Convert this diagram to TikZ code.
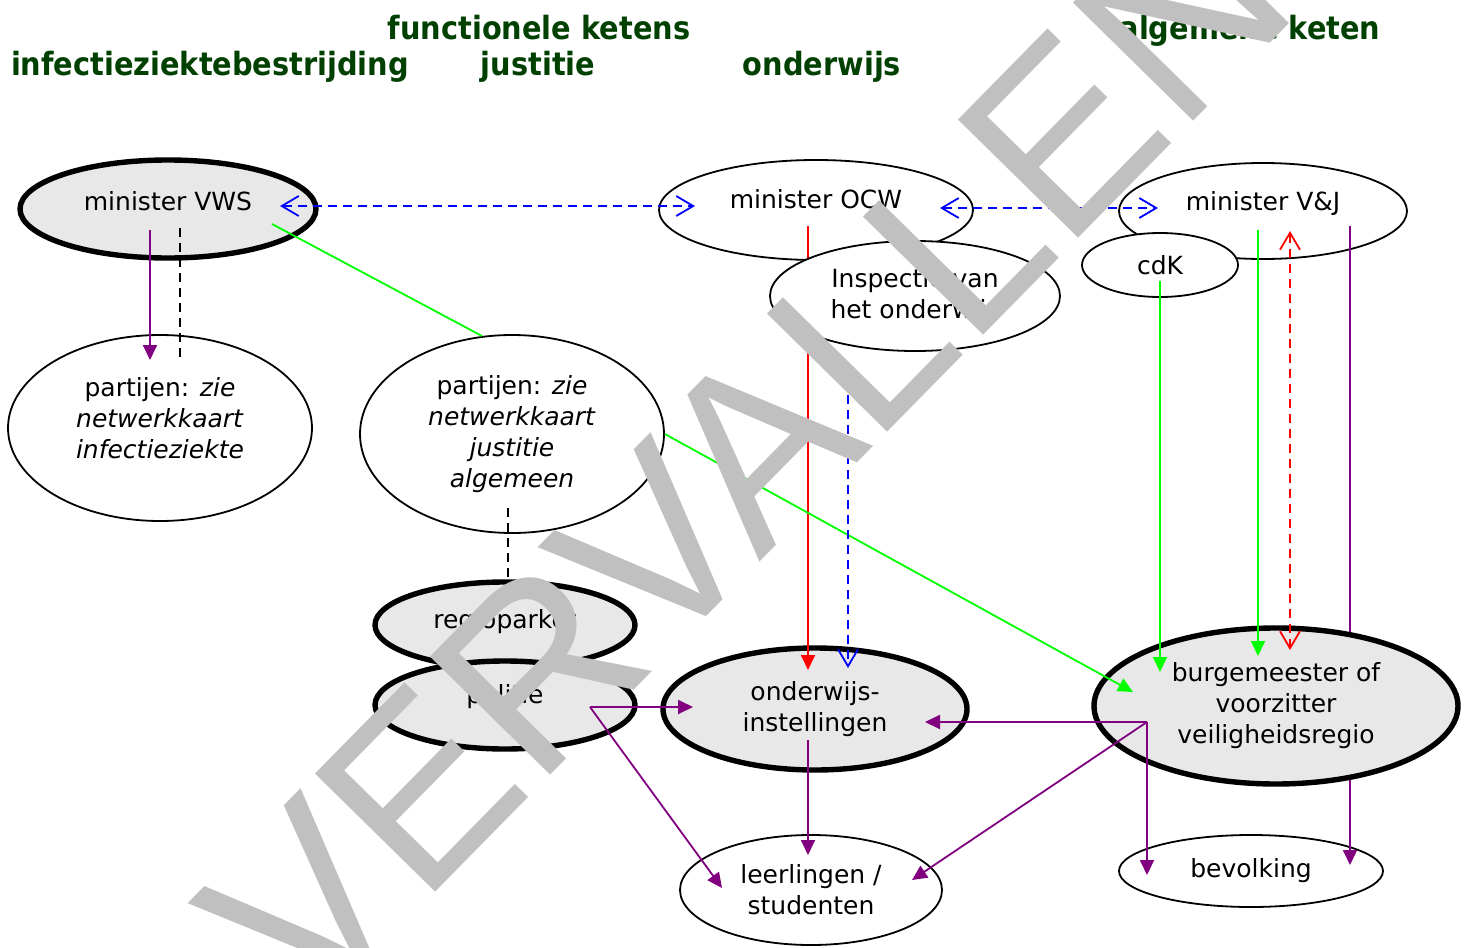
\documentclass[tikz,border=0pt]{standalone}
\usepackage{fontspec}
\setmainfont{DejaVu Sans}
\newfontfamily\headfont[FakeStretch=0.9]{DejaVu Sans}
\newfontfamily\stampfont{Liberation Sans}
\usetikzlibrary{shapes.geometric}
\usetikzlibrary{arrows.meta}
\usetikzlibrary{calc}
\definecolor{kopgroen}{RGB}{0,64,0}
\definecolor{vlak}{RGB}{232,232,232}
\definecolor{paars}{RGB}{128,0,128}
\definecolor{stempel}{RGB}{192,192,192}

\begin{document}
\begin{tikzpicture}[x=0.5pt, y=-0.5pt,
  every node/.style = {font=\fontsize{12.5}{15.5}\selectfont, align=center, inner sep=0pt},
  main/.style = {draw, ellipse, line width=0.9pt, fill=white},
  hoofd/.style = {main, line width=2.7pt, fill=vlak},
  hoger/.style = {text depth=#1},
  titel/.style = {text=kopgroen, font=\headfont\bfseries\fontsize{16}{18}\selectfont, anchor=base},
  lijn/.style = {line width=0.9pt},
  pijl/.style = {lijn, -{Triangle[length=7.5pt,width=7pt]}},
  stippel/.style = {lijn, dash pattern=on 4.5pt off 3pt},
  barb/.style = {-{Straight Barb[length=8.5pt,width=10pt]}},
  barbs/.style = {{Straight Barb[length=8.5pt,width=10pt]}-{Straight Barb[length=8.5pt,width=10pt]}}]

\useasboundingbox (0,0) rectangle (1469,948);
\clip (0,0) rectangle (1469,948);

% kopjes
\node[titel] (functioneel) at (539,39) {functionele ketens};
\node[titel] (algemeen) at (1250,39) {algemene keten};
\node[titel] (infectie) at (210,75) {infectieziektebestrijding};
\node[titel] (justitie) at (538,75) {justitie};
\node[titel] (onderwijs) at (822,75) {onderwijs};

% partijen
\node[hoofd, hoger=8pt, minimum width=148pt, minimum height=49pt] (vws) at (168,209) {minister VWS};
\node[main, hoger=10pt, minimum width=152pt, minimum height=93pt] (infz) at (160,428) {partijen: \textit{zie}\\\textit{netwerkkaart}\\\textit{infectieziekte}};
\node[main, minimum width=152pt, minimum height=99pt] (jus) at (512,434) {partijen: \textit{zie}\\\textit{netwerkkaart}\\\textit{justitie}\\\textit{algemeen}};
\node[hoofd, hoger=6pt, minimum width=130pt, minimum height=43pt] (regio) at (505,625) {regioparket};
\node[hoofd, hoger=11pt, minimum width=130pt, minimum height=44pt] (pol) at (505,705) {politie};
\node[hoofd, minimum width=152pt, minimum height=61pt] (ow) at (815,709) {onderwijs-\\instellingen};
\node[main, hoger=11pt, minimum width=157pt, minimum height=50pt] (ocw) at (816,210) {minister OCW};
\node[main, hoger=10pt, minimum width=144pt, minimum height=48pt] (venj) at (1263,211) {minister V\&J};
\node[main, minimum width=78pt, minimum height=32pt] (cdk) at (1160,265) {cdK};
\node[main, minimum width=132pt, minimum height=36pt] (bev) at (1251,871) {bevolking};
\node[main, minimum width=131pt, minimum height=55pt] (leer) at (811,890) {leerlingen /\\studenten};

% lijnen die achter inspectie en burgemeester lopen
\draw[pijl, red] ($(ocw)+(-8,16)$) -- ($(ow)+(-7,-39)$);
\draw[pijl, paars] ($(venj)+(87,15)$) -- ($(bev)+(99,-6)$);

\node[main, minimum width=145pt, minimum height=55pt] (insp) at (915,296) {Inspectie van\\het onderwijs};
\node[hoofd, minimum width=182pt, minimum height=78pt] (burg) at (1276,706) {burgemeester of\\voorzitter\\veiligheidsregio};

\coordinate (polhub) at ($(pol)+(85,2)$);
\coordinate (burghub) at ($(burg)+(-129,16)$);

\draw[stippel, barbs, blue] ($(vws)+(112,-3)$) -- ($(ocw)+(-121,-4)$);
\draw[stippel, barbs, blue] ($(ocw)+(124,-2)$) -- ($(venj)+(-105,-3)$);
\draw[pijl, paars] ($(vws)+(-18,21)$) -- ($(infz)+(-10,-68)$);
\draw[stippel, black] ($(vws)+(12,19)$) -- ($(infz)+(20,-66)$);
\draw[lijn, green] ($(vws)+(104,15)$) -- (jus.107);
\draw[pijl, green] (jus.east) -- ($(burg)+(-143,-14)$);
\draw[stippel, black] ($(jus)+(-4,74)$) -- ($(regio)+(3,-27)$);
\draw[stippel, barb, blue] ($(insp)+(-67,69)$) -- ($(ow)+(33,-41)$);
\draw[pijl, green] ($(cdk)+(0,16)$) -- ($(burg)+(-116,-34)$);
\draw[pijl, green] ($(venj)+(-5,19)$) -- ($(burg)+(-18,-50)$);
\draw[stippel, barbs, red] ($(venj)+(27,20)$) -- ($(burg)+(14,-56)$);
\draw[pijl, paars] (polhub) -- ($(ow)+(-122,-2)$);
\draw[pijl, paars] (polhub) -- ($(leer)+(-89,-2)$);
\draw[pijl, paars] ($(ow)+(-7,31)$) -- ($(leer)+(-3,-35)$);
\draw[pijl, paars] (burghub) -- ($(ow)+(110,13)$);
\draw[pijl, paars] (burghub) -- ($(leer)+(101,-10)$);
\draw[pijl, paars] (burghub) -- ($(bev)+(-104,4)$);

% stempel
\node[text=stempel, font=\stampfont\fontsize{122.5}{122.5}\selectfont, rotate=45.5, anchor=base west] (vervallen) at (307,1023) {VERVALLEN};

\end{tikzpicture}
\end{document}
